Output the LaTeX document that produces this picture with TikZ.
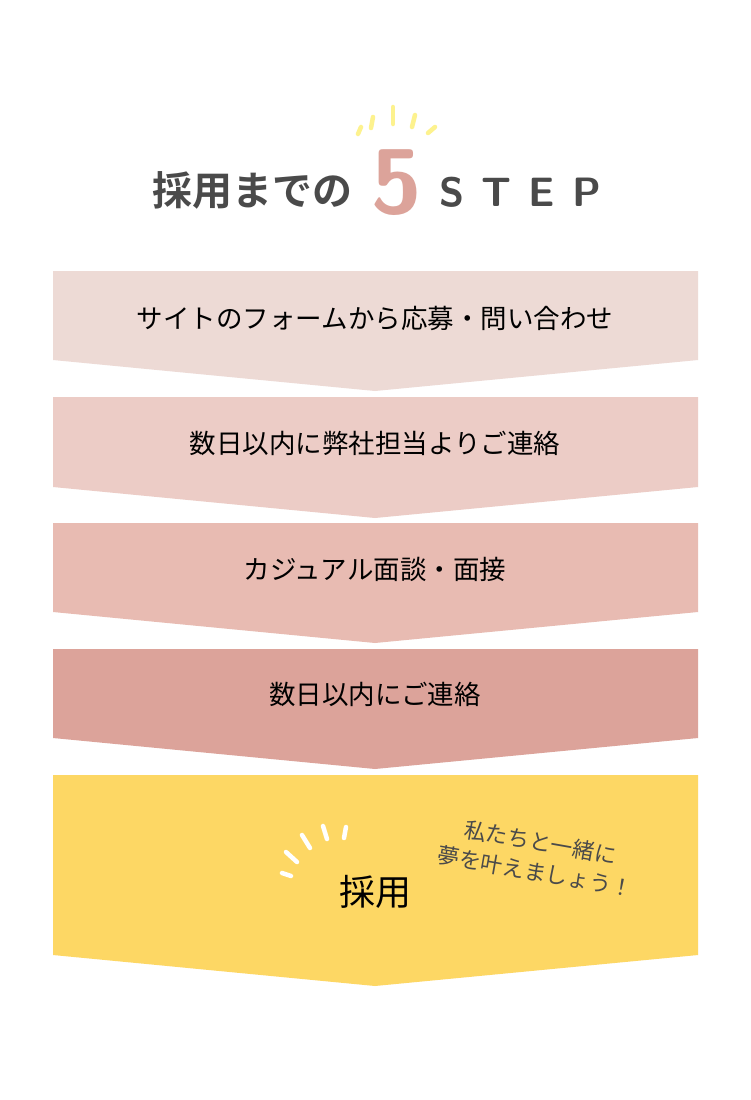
\documentclass[tikz,border=0pt]{standalone}
\usepackage{fontspec}
\newfontfamily\jp{Noto Sans CJK JP}
\newfontfamily\jpb{Noto Sans CJK JP Bold}
\definecolor{c1}{HTML}{EDDAD5}
\definecolor{c2}{HTML}{ECCCC6}
\definecolor{c3}{HTML}{E8BBB2}
\definecolor{c4}{HTML}{DCA39A}
\definecolor{c5}{HTML}{FDD764}
\definecolor{tx}{HTML}{4A4A4A}
\definecolor{ray}{HTML}{FDF28E}
\tikzset{steptxt/.style={font=\jp\fontsize{26.5}{30}\selectfont, text=black},
 rayline/.style={line width=4.5pt, line cap=round}}
\begin{document}
\begin{tikzpicture}[x=1pt,y=-1pt]
\useasboundingbox[fill=white] (0,0) rectangle (750,1100);
\foreach \t/\b/\c in {271/360/c1,397/487/c2,523/612/c3,649/738/c4,775/955/c5}{
  \fill[\c] (53,\t) -- (698,\t) -- (698,\b) -- (375,\b+31) -- (53,\b) -- cycle;}
\node[steptxt] (s1) at (375,318) {サイトのフォームから応募・問い合わせ};
\node[steptxt] (s2) at (375,443) {数日以内に弊社担当よりご連絡};
\node[steptxt] (s3) at (375,569) {カジュアル面談・面接};
\node[steptxt] (s4) at (375,694) {数日以内にご連絡};
\node[font=\jp\fontsize{36}{40}\selectfont] (s5) at (375,892) {採用};
\node[font=\jp\fontsize{22}{30}\selectfont, text=tx, rotate=-10, align=center] (msg) at (538,857) {私たちと一緒に\\夢を叶えましょう！};
\node[font=\jpb\fontsize{40}{44}\selectfont, text=tx] (t1) at (252,190) {採用までの};
\node[font=\sffamily\bfseries\fontsize{92}{96}\selectfont, text=c4] (t5) at (397,183) {5};
\node[font=\sffamily\bfseries\fontsize{41}{44}\selectfont, text=tx] (t2) at (520,192) {S\hspace{0.42em}T\hspace{0.42em}E\hspace{0.42em}P};
\begin{scope}[rayline, color=ray]
\draw (358,134) -- (361,127);
\draw (371,128) -- (373,117);
\draw (393,124) -- (393,107);
\draw (412,127) -- (415,115);
\draw (428,133) -- (435,127);
\end{scope}
\begin{scope}[rayline, white]
\draw (282,873) -- (291,876);
\draw (286,852) -- (297,862);
\draw (302,835) -- (310,848);
\draw (323,826) -- (327,839);
\draw (346,827) -- (344,838);
\end{scope}
\end{tikzpicture}
\end{document}
